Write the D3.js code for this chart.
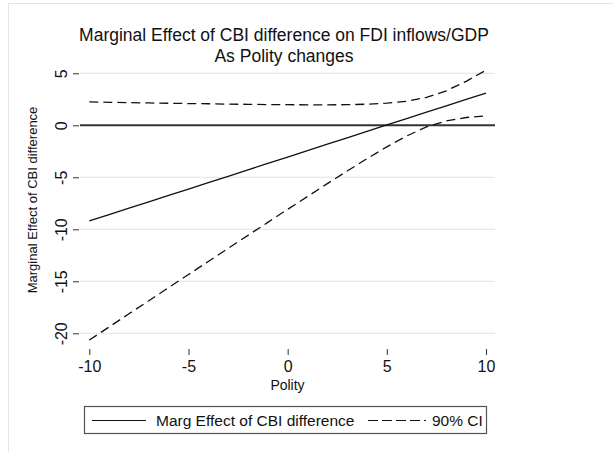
<!DOCTYPE html>
<html>
<head>
<meta charset="utf-8">
<script src="https://cdnjs.cloudflare.com/ajax/libs/d3/7.8.5/d3.min.js"></script>
<style>
	body { margin: 0; background: #fff; }
	text { font-family: "Liberation Sans", Arial, sans-serif; fill: #111; }
</style>
</head>
<body>
<div id="chart"></div>
<script>

///////////////////////////////////////////////////////////////////////////
////////////////////////////// The data ///////////////////////////////////
///////////////////////////////////////////////////////////////////////////

var polity = [-10,-9,-8,-7,-6,-5,-4,-3,-2,-1,0,1,2,3,4,5,6,7,8,9,10];
var margEffect = [-9.20,-8.59,-7.97,-7.36,-6.74,-6.13,-5.51,-4.90,-4.28,-3.67,-3.05,
	-2.44,-1.82,-1.21,-0.59,0.03,0.64,1.26,1.87,2.49,3.10];
var ciUpper = [2.25,2.21,2.18,2.15,2.12,2.09,2.07,2.03,2.02,1.99,1.98,
	1.97,1.97,1.98,2.03,2.13,2.31,2.68,3.32,4.23,5.30];
var ciLower = [-20.65,-19.39,-18.12,-16.87,-15.60,-14.35,-13.09,-11.83,-10.58,-9.33,-8.08,
	-6.85,-5.61,-4.40,-3.21,-2.07,-1.03,-0.16,0.42,0.75,0.90];

var xTicks = [-10,-5,0,5,10];
var yTicks = [5,0,-5,-10,-15,-20];

var titleLines = ["Marginal Effect of CBI difference on FDI inflows/GDP", "As Polity changes"];
var xTitle = "Polity";
var yTitle = "Marginal Effect of CBI difference";
var legendLabels = ["Marg Effect of CBI difference", "90% CI"];

///////////////////////////////////////////////////////////////////////////
//////////////////// Set up and initiate svg container ////////////////////
///////////////////////////////////////////////////////////////////////////

var width = 613,
	height = 452;

var svg = d3.select("#chart")
	.append("svg")
	.attr("width", width)
	.attr("height", height);

//Faint outer graph region border
svg.append("rect")
	.attr("x", 8.5)
	.attr("y", 3.5)
	.attr("width", 700)
	.attr("height", 600)
	.style("fill", "none")
	.style("stroke", "#e4e4e4")
	.style("stroke-width", 1);

var plotLeft = 80,
	plotRight = 495;

var x = d3.scaleLinear()
	.domain([-10, 10])
	.range([89.3, 486]);

var y = d3.scaleLinear()
	.domain([-20, 5])
	.range([333.3, 73.3]);

//Plain hyphen minus, like the original
var tickFmt = function(d) { return String(d); };

///////////////////////////////////////////////////////////////////////////
///////////////////////////// Titles //////////////////////////////////////
///////////////////////////////////////////////////////////////////////////

svg.selectAll(".title")
	.data(titleLines)
	.enter().append("text")
	.attr("class", "title")
	.attr("x", 284)
	.attr("y", function(d,i) { return 41 + i * 20.5; })
	.style("text-anchor", "middle")
	.style("font-size", "17.5px")
	.text(function(d) { return d; });

///////////////////////////////////////////////////////////////////////////
///////////////////////////// Grid and axes ///////////////////////////////
///////////////////////////////////////////////////////////////////////////

//Gridlines
svg.selectAll(".grid")
	.data(yTicks.filter(function(d) { return d !== 0; }))
	.enter().append("line")
	.attr("class", "grid")
	.attr("x1", plotLeft)
	.attr("x2", plotRight)
	.attr("y1", function(d) { return y(d); })
	.attr("y2", function(d) { return y(d); })
	.style("stroke", "#e8e8e8")
	.style("stroke-width", 1.2);

//Y axis
var yAxis = svg.append("g")
	.attr("transform", "translate(79,0)")
	.call(d3.axisLeft(y).tickValues(yTicks).tickSize(6).tickFormat(tickFmt));
yAxis.select(".domain").remove();
yAxis.selectAll(".tick line").style("stroke", "#333");
yAxis.selectAll(".tick text")
	.attr("x", null)
	.attr("dy", null)
	.attr("transform", "translate(-12,0) rotate(-90)")
	.style("text-anchor", "middle")
	.style("font-family", "Liberation Sans, Arial, sans-serif")
	.style("font-size", "16px")
	.style("fill", "#111");

//X axis
var xAxis = svg.append("g")
	.attr("transform", "translate(0,349)")
	.call(d3.axisBottom(x).tickValues(xTicks).tickSize(6).tickPadding(6).tickFormat(tickFmt));
xAxis.select(".domain").remove();
xAxis.selectAll(".tick line").style("stroke", "#333");
xAxis.selectAll(".tick text")
	.style("font-family", "Liberation Sans, Arial, sans-serif")
	.style("font-size", "16px")
	.style("fill", "#111");

//Axis titles
svg.append("text")
	.attr("x", (plotLeft + plotRight) / 2)
	.attr("y", 390)
	.style("text-anchor", "middle")
	.style("font-size", "14px")
	.text(xTitle);

svg.append("text")
	.attr("transform", "translate(37," + 200 + ") rotate(-90)")
	.style("text-anchor", "middle")
	.style("font-size", "13px")
	.text(yTitle);

///////////////////////////////////////////////////////////////////////////
///////////////////////////// The lines ///////////////////////////////////
///////////////////////////////////////////////////////////////////////////

//Zero reference line
svg.append("line")
	.attr("x1", plotLeft)
	.attr("x2", plotRight)
	.attr("y1", y(0))
	.attr("y2", y(0))
	.style("stroke", "#333")
	.style("stroke-width", 2);

var line = d3.line()
	.x(function(d) { return x(d[0]); })
	.y(function(d) { return y(d[1]); });

svg.append("path")
	.datum(d3.zip(polity, margEffect))
	.attr("d", line)
	.style("fill", "none")
	.style("stroke", "#111")
	.style("stroke-width", 1.3);

[ciUpper, ciLower].forEach(function(ci) {
	svg.append("path")
		.datum(d3.zip(polity, ci))
		.attr("d", line)
		.style("fill", "none")
		.style("stroke", "#111")
		.style("stroke-width", 1.3)
		.style("stroke-dasharray", "9,5");
});

///////////////////////////////////////////////////////////////////////////
///////////////////////////// The legend //////////////////////////////////
///////////////////////////////////////////////////////////////////////////

var legend = svg.append("g").attr("class", "legend");

legend.append("rect")
	.attr("x", 84.5)
	.attr("y", 406.5)
	.attr("width", 402)
	.attr("height", 27)
	.style("fill", "#fff")
	.style("stroke", "#555")
	.style("stroke-width", 1.2);

var legendItems = [
	{x1: 92, x2: 146, tx: 156, dash: null},
	{x1: 368, x2: 426, tx: 432, dash: "10,4"}
];

legendItems.forEach(function(d, i) {
	legend.append("line")
		.attr("x1", d.x1)
		.attr("x2", d.x2)
		.attr("y1", 420.5)
		.attr("y2", 420.5)
		.style("stroke", "#111")
		.style("stroke-width", 1.2)
		.style("stroke-dasharray", d.dash);
	legend.append("text")
		.attr("x", d.tx)
		.attr("y", 426)
		.style("font-size", "15.5px")
		.text(legendLabels[i]);
});

</script>
</body>
</html>
